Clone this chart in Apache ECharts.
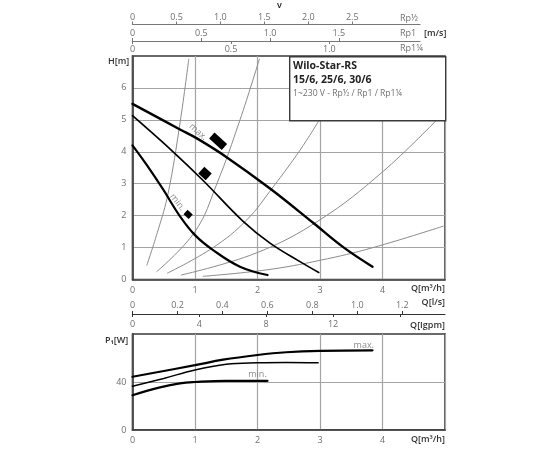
<!DOCTYPE html>
<html lang="en">

<head>
  <meta charset="utf-8">
  <title>Wilo-Star-RS</title>
  <script src="https://cdn.jsdelivr.net/npm/echarts@6/dist/echarts.min.js"></script>
  <style>
    html, body { margin: 0; background: #fff; }
    #chart { width: 550px; height: 450px; filter: blur(0.35px); }
  </style>
</head>

<body>
  <div id="chart"></div>
  <script>
    // pump curves, [Q m3/h, H m]
    var headMax = [[0, 5.5], [0.76, 4.7], [1.03, 4.42], [1.5, 3.84], [2.2, 2.85], [2.9, 1.76], [3.36, 1.03], [3.84, 0.4]];
    var headMid = [[0, 5.13], [0.65, 4], [1.13, 3.1], [1.77, 1.82], [2.2, 1.14], [2.68, 0.56], [2.98, 0.22]];
    var headMin = [[0, 4.2], [0.23, 3.58], [0.49, 2.82], [0.76, 1.98], [1, 1.39], [1.29, 0.92], [1.72, 0.4], [2.16, 0.14]];

    // thin system curves
    var sysA = [[0.23, 0.45], [0.41, 1.55], [0.57, 2.7], [0.76, 4.9], [0.9, 6.9]];
    var sysB = [[0.39, 0.25], [1, 1.5], [1.35, 3], [1.72, 5], [2.03, 6.9]];
    var sysC = [[0.56, 0.2], [1.29, 1], [1.83, 1.87], [2.25, 2.9], [2.68, 4.05], [2.99, 5]];
    var sysD = [[0.78, 0.14], [1.98, 0.83], [3, 1.87], [4, 3.37], [4.87, 5]];
    var sysE = [[1.13, 0.1], [2.14, 0.3], [3, 0.6], [3.85, 1], [4.97, 1.67]];

    // power curves, [Q m3/h, P W]
    var powerMax = [[0, 44.4], [1, 54], [1.45, 58.6], [2, 62.5], [2.46, 64.8], [3, 66], [3.84, 66.4]];
    var powerMid = [[0, 36.4], [0.5, 43], [1, 50], [1.5, 54.7], [2, 56], [2.46, 56.3], [2.97, 56]];
    var powerMin = [[0, 29], [0.44, 35.5], [0.76, 38.9], [1, 40], [1.5, 41], [2.16, 41]];

    // speed setting markers, [Q, H]
    var markMax = [[1.37, 4.33]];
    var markMid = [[1.16, 3.32]];
    var markMin = [[0.89, 2.04]];

    // tick values of the scale axes
    var flowTicks = [0, 1, 2, 3, 4, 5];
    var flowLabels = [0, 1, 2, 3, 4];
    var headTicks = [0, 1, 2, 3, 4, 5, 6];
    var powerTicks = [0, 40];
    var rpHalfTicks = [0, 0.5, 1, 1.5, 2, 2.5];
    var rpOneTicks = [0, 0.5, 1, 1.5];
    var rpQuarterTicks = [0, 0.5, 1];
    var litreTicks = [0, 0.2, 0.4, 0.6, 0.8, 1, 1.2];
    var gpmTicks = [0, 4, 8, 12, 16];
    var gpmLabels = [0, 4, 8, 12];

    var gray = '#6f6f6f';
    var fontName = '"Open Sans", sans-serif';
    var axisColor = '#3a3a3a';
    var gridColor = '#a4a4a4';

    function oneDec(v) {
      return v === 0 ? '0' : v.toFixed(1);
    }

    // thin axis that only carries ticks and labels
    function scaleAxis(gridIndex, max, ticks, labels, position, fmt, margin, lineOn, lineColor) {
      return {
        type: 'value', gridIndex: gridIndex, position: position, min: 0, max: max,
        axisLine: { show: lineOn, onZero: false, lineStyle: { color: lineColor, width: 1.2 } },
        axisTick: { show: true, inside: false, length: 3, customValues: ticks, lineStyle: { color: lineColor } },
        axisLabel: {
          customValues: labels, formatter: fmt, margin: margin, color: gray,
          fontFamily: fontName, fontSize: 9, hideOverlap: false
        },
        splitLine: { show: false }
      };
    }

    function plotX(gridIndex) {
      return {
        type: 'value', gridIndex: gridIndex, min: 0, max: 5,
        axisLine: { onZero: false, lineStyle: { color: axisColor, width: 1.6 } },
        axisTick: { show: false, customValues: flowTicks },
        axisLabel: { customValues: flowLabels, color: gray, fontFamily: fontName, fontSize: 9, margin: 6 },
        splitLine: { show: true, lineStyle: { color: gridColor, width: 1.2 } }
      };
    }

    function plotY(gridIndex, max, ticks) {
      return {
        type: 'value', gridIndex: gridIndex, min: 0, max: max,
        axisLine: { show: true, onZero: false, lineStyle: { color: axisColor, width: 1.6 } },
        axisTick: { show: false, customValues: ticks },
        axisLabel: { customValues: ticks, color: gray, fontFamily: fontName, fontSize: 9, margin: 6 },
        splitLine: { show: true, lineStyle: { color: gridColor, width: 1.2 } }
      };
    }

    function curve(data, width, color, xi, yi, z) {
      return {
        type: 'line', data: data, xAxisIndex: xi, yAxisIndex: yi, smooth: 0.4,
        showSymbol: false, z: z,
        lineStyle: { color: color, width: width, cap: 'round' }
      };
    }

    function sysCurve(data) {
      return curve(data, 1, '#8c8c8c', 0, 0, 3);
    }

    function marker(data, w, h) {
      return {
        type: 'scatter', data: data, xAxisIndex: 0, yAxisIndex: 0, symbol: 'rect',
        symbolSize: [w, h], symbolRotate: -42, z: 6, itemStyle: { color: '#000', opacity: 1 }
      };
    }

    // rotated or plain word placed on a curve
    function word(text, point, rotate, xi, yi) {
      return {
        type: 'scatter', data: [point], xAxisIndex: xi, yAxisIndex: yi, symbolSize: 0, z: 6,
        label: {
          show: true, position: 'inside', formatter: text, rotate: rotate,
          color: gray, fontFamily: fontName, fontSize: 9
        }
      };
    }

    function plainText(text, left, top, fill, font) {
      return { type: 'text', left: left, top: top, z: 20, style: { text: text, fill: fill, font: font } };
    }

    function unitText(text, top) {
      return {
        type: 'text', right: 105, top: top, z: 20,
        style: { text: text, fill: '#333', font: '600 9px ' + fontName }
      };
    }

    var chart = echarts.init(document.getElementById('chart'));
    chart.setOption({
      animation: false,
      backgroundColor: '#fff',
      grid: [
        { left: 132.5, right: 105, top: 56, height: 223.5, show: true, borderColor: axisColor, borderWidth: 1.6 },   // H-Q
        { left: 132.5, right: 105, top: 334, height: 96, show: true, borderColor: axisColor, borderWidth: 1.6 },     // P-Q
        { left: 132.5, right: 130, top: 24.5, height: 0 },     // Rp1/2
        { left: 132.5, right: 130, top: 41, height: 0 },       // Rp1
        { left: 132.5, right: 105, top: 314, height: 0 }       // l/s and Igpm
      ],
      xAxis: [
        plotX(0),
        plotX(1),
        scaleAxis(2, 3.27, rpHalfTicks, rpHalfTicks, 'top', oneDec, 3, true, '#777'),
        scaleAxis(3, 2.09, rpOneTicks, rpOneTicks, 'top', oneDec, 3, true, '#777'),
        scaleAxis(3, 1.46, rpQuarterTicks, rpQuarterTicks, 'bottom', oneDec, 4, false, '#777'),
        scaleAxis(4, 1.39, litreTicks, litreTicks, 'top', oneDec, 4, true, '#333'),
        scaleAxis(4, 18.7, gpmTicks, gpmLabels, 'bottom', function (v) { return String(v); }, 6, false, '#333')
      ],
      yAxis: [
        plotY(0, 7, headTicks),
        plotY(1, 80, powerTicks),
        { type: 'value', gridIndex: 2, show: false },
        { type: 'value', gridIndex: 3, show: false },
        { type: 'value', gridIndex: 4, show: false }
      ],
      series: [
        sysCurve(sysA), sysCurve(sysB), sysCurve(sysC), sysCurve(sysD), sysCurve(sysE),
        curve(headMax, 2.4, '#000', 0, 0, 5),
        curve(headMid, 1.7, '#000', 0, 0, 5),
        curve(headMin, 2.2, '#000', 0, 0, 5),
        curve(powerMax, 2.2, '#000', 1, 1, 5),
        curve(powerMid, 1.5, '#000', 1, 1, 5),
        curve(powerMin, 2.2, '#000', 1, 1, 5),
        marker(markMax, 17, 8),
        marker(markMid, 10, 9),
        marker(markMin, 7, 6),
        word('max.', [1.05, 4.62], -42, 0, 0),
        word('min.', [0.72, 2.42], -52, 0, 0),
        word('max.', [3.7, 70.8], 0, 1, 1),
        word('min.', [2.0, 46], 0, 1, 1)
      ],
      graphic: [
        {
          type: 'rect', left: 289, top: 56, z: 10,
          shape: { width: 156, height: 64 },
          style: { fill: '#fff', stroke: axisColor, lineWidth: 1.4 }
        },
        plainText('Wilo-Star-RS', 293, 61, '#222', '700 10.5px ' + fontName),
        plainText('15/6, 25/6, 30/6', 293, 75, '#222', '700 10.5px ' + fontName),
        plainText('1~230 V - Rp½ / Rp1 / Rp1¼', 293, 89, gray, '8.6px ' + fontName),
        plainText('v', 277, 1, '#222', '600 9px ' + fontName),
        plainText('Rp½', 400, 14, gray, '9px ' + fontName),
        plainText('Rp1', 400, 29, gray, '9px ' + fontName),
        plainText('Rp1¼', 400, 44, gray, '9px ' + fontName),
        plainText('[m/s]', 424, 29, '#333', '600 9px ' + fontName),
        plainText('H[m]', 108, 57, '#333', '600 9px ' + fontName),
        plainText('P₁[W]', 105, 336, '#333', '600 9px ' + fontName),
        unitText('Q[m³/h]', 284),
        unitText('Q[l/s]', 298),
        unitText('Q[Igpm]', 321),
        unitText('Q[m³/h]', 435)
      ]
    });
  </script>
</body>

</html>
